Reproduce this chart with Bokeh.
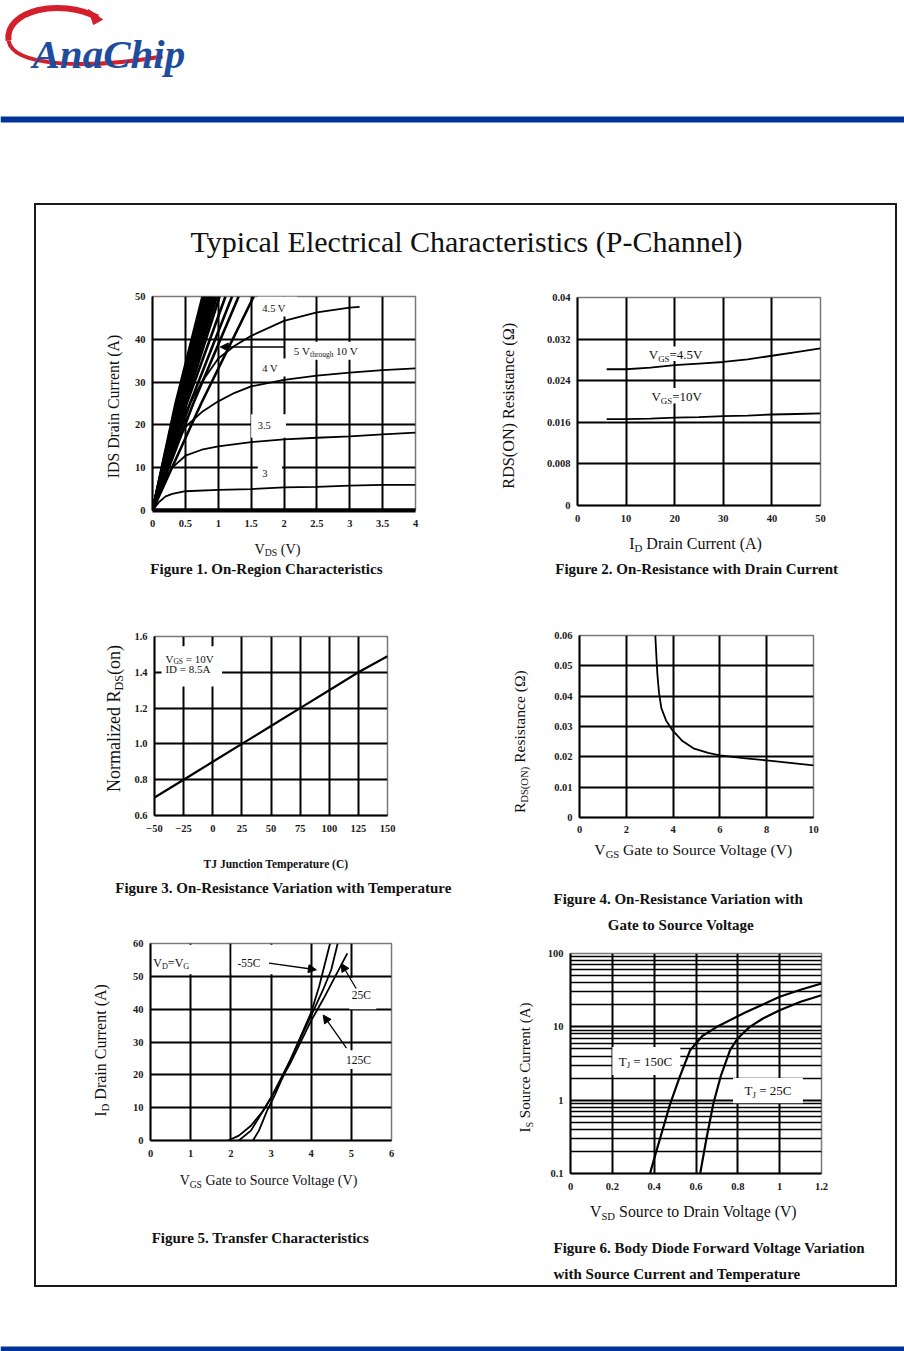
import math
from bokeh.plotting import figure
from bokeh.models import (Range1d, Label, Arrow, NormalHead, FixedTicker,
                          NumeralTickFormatter, Spacer, BoxAnnotation)
from bokeh.layouts import column, row
from bokeh.embed import file_html
from bokeh.resources import INLINE
from bokeh.core.properties import value

SERIF = "Liberation Serif"

# ---------------- Figure 1: On-Region Characteristics ----------------
fig1_vds_25v = [0, 4.0]
fig1_id_25v = [0, 0]
fig1_vds_3v = [0, 0.1, 0.2, 0.3, 0.5, 1.0, 1.5, 2.0, 2.5, 3.0, 3.5, 4.0]
fig1_id_3v = [0, 2.0, 3.3, 3.9, 4.5, 4.8, 5.0, 5.4, 5.5, 5.8, 6.0, 6.0]
fig1_vds_35v = [0, 0.1, 0.2, 0.3, 0.5, 0.75, 1.0, 1.5, 2.0, 2.5, 3.0, 3.5, 4.0]
fig1_id_35v = [0, 4.0, 7.5, 10.0, 12.8, 14.2, 15.0, 16.0, 16.6, 17.0, 17.3, 17.8, 18.2]
fig1_vds_4v = [0, 0.1, 0.25, 0.5, 0.75, 1.0, 1.25, 1.5, 2.0, 2.5, 3.0, 3.5, 4.0]
fig1_id_4v = [0, 5.0, 12.0, 19.5, 23.0, 25.5, 27.5, 29.0, 30.5, 31.5, 32.2, 32.8, 33.2]
fig1_vds_45v = [0, 0.25, 0.5, 0.75, 1.0, 1.25, 1.5, 2.0, 2.5, 3.0, 3.15]
fig1_id_45v = [0, 13.0, 23.0, 30.0, 35.5, 38.5, 40.8, 44.3, 46.3, 47.4, 47.6]
# 5 V through 10 V family: Vds at which each curve reaches 25 A and 50 A
fig1_bundle_id = [0, 25, 50]
fig1_bundle_vds_25a = [0.35, 0.36, 0.37, 0.38, 0.39, 0.40, 0.41, 0.42, 0.43, 0.45, 0.47,
                       0.50, 0.52, 0.57, 0.62, 0.74]
fig1_bundle_vds_50a = [0.76, 0.78, 0.80, 0.82, 0.84, 0.86, 0.88, 0.90, 0.92, 0.95, 0.98,
                       1.02, 1.11, 1.21, 1.31, 1.54]
fig1_xticks = [0, 0.5, 1, 1.5, 2, 2.5, 3, 3.5, 4]
fig1_yticks = [0, 10, 20, 30, 40, 50]

# ---------------- Figure 2: On-Resistance with Drain Current ----------------
fig2_id = [6, 10, 15, 20, 25, 30, 35, 40, 45, 50]
fig2_r_45v = [0.0262, 0.0262, 0.0265, 0.0270, 0.0273, 0.0276, 0.0281, 0.0288, 0.0295, 0.0302]
fig2_r_10v = [0.0166, 0.0166, 0.0167, 0.0169, 0.0170, 0.0172, 0.0173, 0.0175, 0.0176, 0.0177]
fig2_xticks = [0, 10, 20, 30, 40, 50]
fig2_yticks = [0, 0.008, 0.016, 0.024, 0.032, 0.04]

# ---------------- Figure 3: On-Resistance vs Temperature ----------------
fig3_tj = [-50, -25, 0, 25, 50, 75, 100, 125, 150]
fig3_rn = [0.70, 0.80, 0.90, 1.00, 1.10, 1.20, 1.30, 1.40, 1.49]
fig3_xticks = [-50, -25, 0, 25, 50, 75, 100, 125, 150]
fig3_yticks = [0.6, 0.8, 1.0, 1.2, 1.4, 1.6]

# ---------------- Figure 4: On-Resistance vs Gate Voltage ----------------
fig4_vgs = [3.24, 3.28, 3.33, 3.40, 3.50, 3.70, 3.95, 4.40, 4.90, 5.50, 6.00, 7.00, 8.00, 9.00, 10.0]
fig4_r = [0.060, 0.054, 0.047, 0.041, 0.036, 0.032, 0.029, 0.0252, 0.0227, 0.0213, 0.0205,
          0.0196, 0.0188, 0.0180, 0.0172]
fig4_xticks = [0, 2, 4, 6, 8, 10]
fig4_yticks = [0, 0.01, 0.02, 0.03, 0.04, 0.05, 0.06]

# ---------------- Figure 5: Transfer Characteristics ----------------
fig5_vgs_m55 = [2.55, 2.70, 2.90, 3.10, 3.50, 4.00, 4.20, 4.47]
fig5_id_m55 = [0, 3, 9, 14, 25, 39, 47, 60]
fig5_vgs_25 = [2.20, 2.50, 2.80, 3.00, 3.50, 4.00, 4.30, 4.50, 4.66]
fig5_id_25 = [0, 3, 9, 13, 25, 38, 46, 52, 60]
fig5_vgs_125 = [1.93, 2.20, 2.50, 2.80, 3.00, 3.50, 4.00, 4.30, 4.60, 4.90]
fig5_id_125 = [0, 1.5, 4.5, 9, 13, 24, 36.5, 43, 50, 57]
fig5_xticks = [0, 1, 2, 3, 4, 5, 6]
fig5_yticks = [0, 10, 20, 30, 40, 50, 60]

# ---------------- Figure 6: Body Diode Forward Voltage ----------------
fig6_vsd_150 = [0.38, 0.42, 0.477, 0.52, 0.572, 0.63, 0.70, 0.83, 1.00, 1.10, 1.20]
fig6_is_150 = [0.1, 0.25, 0.9, 2.0, 4.8, 7.5, 10, 15.4, 25.7, 32, 39]
fig6_vsd_25 = [0.62, 0.65, 0.683, 0.72, 0.763, 0.80, 0.857, 0.92, 1.00, 1.10, 1.20]
fig6_is_25 = [0.1, 0.3, 0.9, 2.2, 4.8, 7.0, 10, 13, 16.8, 22, 27]
fig6_xticks = [0, 0.2, 0.4, 0.6, 0.8, 1.0, 1.2]
fig6_yticks = [0.1, 1, 10, 100]
fig6_yminor = [0.2, 0.3, 0.4, 0.5, 0.6, 0.7, 0.8, 0.9, 2, 3, 4, 5, 6, 7, 8, 9,
               20, 30, 40, 50, 60, 70, 80, 90]

TITLE = "Typical Electrical Characteristics (P-Channel)"

# ---------------- helpers ----------------
_W = {}
for c, w in zip("ABCDEFGHIJKLMNOPQRSTUVWXYZ",
                [.722, .667, .667, .722, .611, .556, .722, .722, .333, .389, .722, .611, .889,
                 .722, .722, .556, .722, .667, .556, .611, .722, .722, .944, .722, .722, .611]):
    _W[c] = w
for c, w in zip("abcdefghijklmnopqrstuvwxyz",
                [.444, .5, .444, .5, .444, .333, .5, .5, .278, .278, .5, .278, .778,
                 .5, .5, .5, .5, .333, .389, .278, .5, .5, .722, .5, .5, .444]):
    _W[c] = w
_W.update({" ": .25, "(": .333, ")": .333, "=": .564, ".": .25, "-": .333, "Ω": .768})


def tw(s, size, bold=False):
    return sum(_W.get(ch, 0.5) for ch in s) * size * (1.05 if bold else 1.0)


def _items(parts, size, bold):
    """-> list of (text_stripped, kind, font_size, lead_px, text_px, trail_px)"""
    sub = size * 0.68
    out = []
    for t, kind in parts:
        sz = sub if kind == "s" else size
        core = t.strip(" ")
        lead = len(t) - len(t.lstrip(" "))
        trail = len(t) - len(t.rstrip(" "))
        sp = tw(" ", sz, bold)
        out.append((core, kind, sz, lead * sp, tw(core, sz, bold), trail * sp))
    return out


def prich(p, x, y, parts, size, align="center", bold=False, rotated=False, color="#111111"):
    """Rich text drawn with text glyphs in a page-coordinate panel (y grows downward)."""
    items = _items(parts, size, bold)
    total = sum(a + b + c for _, _, _, a, b, c in items)
    off = {"center": -total / 2.0, "left": 0.0, "right": -total}[align]
    for t, kind, sz, lead, w, trail in items:
        off += lead
        shift = size * 0.3 if kind == "s" else 0.0
        if rotated:
            px, py, ang = x + shift, y - off, math.pi / 2
        else:
            px, py, ang = x + off, y + shift, 0.0
        p.text(x=[px], y=[py], text=[t], angle=ang, text_font=value(SERIF),
               text_font_size=f"{sz:.1f}px", text_font_style="bold" if bold else "normal",
               text_color=color, text_align="left", text_baseline="middle")
        off += w + trail


def lrich(p, x, y, parts, size, align="center", color="#111111"):
    """Rich text label inside a plot frame, anchored in data units."""
    items = _items(parts, size, False)
    total = sum(a + b + c for _, _, _, a, b, c in items)
    off = {"center": -total / 2.0, "left": 0.0, "right": -total}[align]
    for t, kind, sz, lead, w, trail in items:
        off += lead
        shift = size * 0.3 if kind == "s" else 0.0
        p.add_layout(Label(x=x, y=y, text=t, x_offset=off, y_offset=-shift, text_font=SERIF,
                           text_font_size=f"{sz:.1f}px", text_color=color,
                           text_align="left", text_baseline="middle"))
        off += w + trail


def wbox(p, left, right, bottom, top):
    """White box behind a label (interrupts the grid like the original sheet)."""
    p.add_layout(BoxAnnotation(left=left, right=right, bottom=bottom, top=top,
                               fill_color="white", fill_alpha=1.0, line_color=None,
                               level="underlay"))


def panel(w, h, x0, x1, y0, y1, bt=0, bb=0):
    p = figure(width=w, height=h, x_range=Range1d(x0, x1), y_range=Range1d(y1, y0),
               output_backend="svg", toolbar_location=None, min_border_left=0,
               min_border_right=0, min_border_top=bt, min_border_bottom=bb,
               x_axis_location=None, y_axis_location=None)
    p.grid.visible = False
    p.outline_line_color = None
    p.background_fill_color = "white"
    p.border_fill_color = "white"
    return p


def base_fig(w, h, bl, br, bt, bb, xr, yr, xticks, yticks, y_type="linear", xstand=9):
    p = figure(width=w, height=h, x_range=Range1d(*xr), y_range=Range1d(*yr),
               y_axis_type=y_type, output_backend="svg", toolbar_location=None,
               min_border_left=bl, min_border_right=br, min_border_top=bt,
               min_border_bottom=bb)
    p.background_fill_color = "white"
    p.border_fill_color = "white"
    p.outline_line_color = "#7a7a7a"
    p.outline_line_width = 1.5
    p.xaxis.ticker = FixedTicker(ticks=xticks)
    p.yaxis.ticker = FixedTicker(ticks=yticks)
    for ax in (p.xaxis[0], p.yaxis[0]):
        ax.axis_line_color = "black"
        ax.axis_line_width = 2
        ax.major_tick_line_color = None
        ax.minor_tick_line_color = None
        ax.major_tick_out = 0
        ax.major_tick_in = 0
        ax.minor_tick_out = 0
        ax.minor_tick_in = 0
        ax.major_label_text_font = SERIF
        ax.major_label_text_font_size = "10.5px"
        ax.major_label_text_font_style = "bold"
        ax.major_label_text_color = "#1a1a1a"
    p.xaxis.major_label_standoff = xstand
    p.yaxis.major_label_standoff = 7
    for g in (p.xgrid[0], p.ygrid[0]):
        g.grid_line_color = "black"
        g.grid_line_width = 2
    return p


def curve(p, xs, ys, w=1.8):
    p.line(xs, ys, line_color="black", line_width=w)


def arrow(p, x0, y0, x1, y1):
    p.add_layout(Arrow(end=NormalHead(size=8, fill_color="black", line_color="black"),
                       x_start=x0, y_start=y0, x_end=x1, y_end=y1,
                       line_color="black", line_width=1.3))


# ---------------- header (page coordinates) ----------------
hdr = panel(904, 203, 0, 904, 0, 203)
RED = "#d3202b"
hdr.bezier(x0=[97], y0=[17], x1=[8], y1=[40], cx0=[60], cy0=[-3], cx1=[4], cy1=[10],
           line_color=RED, line_width=6)
hdr.bezier(x0=[8], y0=[40], x1=[162], y1=[56], cx0=[12], cy0=[66], cx1=[85], cy1=[69],
           line_color=RED, line_width=4)
hdr.patch(x=[88, 102, 93], y=[9, 19, 24], fill_color=RED, line_color=RED)
hdr.text(x=[32], y=[53], text=["AnaChip"], text_font=value(SERIF),
         text_font_style="bold italic", text_font_size="41px", text_color="#1f4d9e",
         text_baseline="alphabetic", text_align="left")
hdr.quad(left=[0], right=[904], top=[116], bottom=[122], fill_color="#003399",
         line_color=None)

# ---------------- title (page y 205..262) ----------------
tfig = panel(859, 57, 36, 895, 205, 262)
tfig.text(x=[466], y=[241], text=[TITLE], text_font=value(SERIF), text_font_size="30px",
          text_color="#111111", text_align="center", text_baseline="middle")

# ================= Row 1 (page y 262..590) =================
# Figure 1 (plot figure spans page x 126..452, y 262..535; frame 152..415 x 296..510)
f1 = base_fig(326, 273, 26, 37, 34, 25, (0, 4), (0, 50), fig1_xticks, fig1_yticks)
f1.xaxis.formatter = NumeralTickFormatter(format="0.[0]")
f1.xaxis.axis_line_width = 4
wbox(f1, 1.60, 2.20, 45.3, 50)
wbox(f1, 2.10, 3.25, 35.2, 39.4)
wbox(f1, 1.55, 2.05, 31.3, 35.5)
wbox(f1, 1.50, 2.03, 17.0, 22.5)
wbox(f1, 1.60, 1.97, 7.0, 11.0)
f1.multi_line(xs=[[0, a, b] for a, b in zip(fig1_bundle_vds_25a, fig1_bundle_vds_50a)],
              ys=[fig1_bundle_id] * len(fig1_bundle_vds_50a), line_color="black",
              line_width=2.6)
curve(f1, fig1_vds_45v, fig1_id_45v)
curve(f1, fig1_vds_4v, fig1_id_4v)
curve(f1, fig1_vds_35v, fig1_id_35v)
curve(f1, fig1_vds_3v, fig1_id_3v)
curve(f1, fig1_vds_25v, fig1_id_25v, w=4)
lrich(f1, 1.67, 47.2, [("4.5 V", "n")], 10.5, align="left")
arrow(f1, 2.0, 38.2, 1.03, 38.2)
lrich(f1, 2.15, 37.2, [("5 V", "n"), ("through", "s"), (" 10 V", "n")], 11, align="left")
lrich(f1, 1.67, 33.2, [("4 V", "n")], 10.5, align="left")
lrich(f1, 1.60, 19.9, [("3.5", "n")], 10.5, align="left")
lrich(f1, 1.67, 8.6, [("3", "n")], 10.5, align="left")
y1L = panel(90, 273, 36, 126, 296, 510, bt=34, bb=25)
prich(y1L, 113, 406, [("IDS Drain Current (A)", "n")], 15.8, rotated=True)
b1L = panel(416, 55, 36, 452, 535, 590)
prich(b1L, 277, 548, [("V", "n"), ("DS", "s"), (" (V)", "n")], 14.3)
prich(b1L, 264, 568, [("Figure 1. On-Region Characteristics", "n")], 15, bold=True)

# Figure 2 (plot figure spans x 540..895, y 262..530; frame 577..820 x 297..505)
f2 = base_fig(355, 268, 37, 75, 35, 25, (0, 50), (0, 0.04), fig2_xticks, fig2_yticks)
f2.yaxis.formatter = NumeralTickFormatter(format="0.[000]")
wbox(f2, 14.3, 26.3, 0.0278, 0.0306)
wbox(f2, 15.0, 26.0, 0.0196, 0.0226)
curve(f2, fig2_id, fig2_r_45v)
curve(f2, fig2_id, fig2_r_10v)
lrich(f2, 20.2, 0.0290, [("V", "n"), ("GS", "s"), ("=4.5V", "n")], 13)
lrich(f2, 20.4, 0.0209, [("V", "n"), ("GS", "s"), ("=10V", "n")], 13)
y1R = panel(88, 268, 452, 540, 297, 505, bt=35, bb=25)
prich(y1R, 508, 405, [("RDS(ON) Resistance (Ω)", "n")], 16.2, rotated=True)
b1R = panel(443, 60, 452, 895, 530, 590)
prich(b1R, 695, 543, [("I", "n"), ("D", "s"), (" Drain Current (A)", "n")], 16)
prich(b1R, 693, 568, [("Figure 2. On-Resistance with Drain Current", "n")], 15, bold=True)

# ================= Row 2 =================
# Figure 3 (plot figure x 126..452, y 590..840; frame 154..387 x 636..815)
f3 = base_fig(326, 250, 28, 65, 46, 25, (-50, 150), (0.6, 1.6), fig3_xticks, fig3_yticks)
f3.yaxis.formatter = NumeralTickFormatter(format="0.0")
wbox(f3, -44, 8, 1.32, 1.545)
curve(f3, fig3_tj, fig3_rn, w=2.2)
lrich(f3, -40.6, 1.477, [("V", "n"), ("GS", "s"), (" = 10V", "n")], 11, align="left")
lrich(f3, -40.6, 1.42, [("ID = 8.5A", "n")], 11, align="left")
y2L = panel(90, 250, 36, 126, 636, 815, bt=46, bb=25)
prich(y2L, 113, 718, [("Normalized R", "n"), ("DS", "s"), ("(on)", "n")], 18, rotated=True)
b2L = panel(416, 95, 36, 452, 840, 935)
prich(b2L, 273, 863, [("TJ Junction Temperature (C)", "n")], 11.5, bold=True)
prich(b2L, 281, 887, [("Figure 3. On-Resistance Variation with Temperature", "n")], 15,
      bold=True)

# Figure 4 (plot figure x 540..895, y 590..840; frame 579..813 x 635..817)
f4 = base_fig(355, 250, 39, 82, 45, 23, (0, 10), (0, 0.06), fig4_xticks, fig4_yticks,
              xstand=8)
f4.yaxis.formatter = NumeralTickFormatter(format="0.[00]")
curve(f4, fig4_vgs, fig4_r)
y2R = panel(88, 250, 452, 540, 635, 817, bt=45, bb=23)
prich(y2R, 519, 741, [("R", "n"), ("DS(ON)", "s"), (" Resistance (Ω)", "n")], 15.6,
      rotated=True)
b2R = panel(443, 95, 452, 895, 840, 935)
prich(b2R, 694, 849, [("V", "n"), ("GS", "s"), (" Gate to Source Voltage (V)", "n")], 15.6)
prich(b2R, 677, 898, [("Figure 4. On-Resistance Variation with", "n")], 15, bold=True)
prich(b2R, 681, 924, [("Gate to Source Voltage", "n")], 15, bold=True)

# ================= Row 3 =================
# Figure 5 (plot figure x 126..452, y 935..1165; frame 150..391 x 943..1140)
f5 = base_fig(326, 230, 24, 61, 8, 25, (0, 6), (0, 60), fig5_xticks, fig5_yticks)
wbox(f5, 0.04, 1.12, 50.6, 59.6)
wbox(f5, 2.02, 3.10, 50.6, 59.6)
wbox(f5, 4.95, 5.62, 40.0, 49.5)
wbox(f5, 4.78, 5.58, 21.8, 27.5)
curve(f5, fig5_vgs_m55, fig5_id_m55)
curve(f5, fig5_vgs_25, fig5_id_25)
curve(f5, fig5_vgs_125, fig5_id_125)
lrich(f5, 0.07, 54, [("V", "n"), ("D", "s"), ("=V", "n"), ("G", "s")], 12, align="left")
lrich(f5, 2.45, 54, [("-55C", "n")], 11.5)
lrich(f5, 5.25, 44.3, [("25C", "n")], 11.5)
lrich(f5, 5.18, 24.5, [("125C", "n")], 11.5)
arrow(f5, 2.95, 54, 4.13, 52)
arrow(f5, 5.12, 46.3, 4.75, 53.9)
arrow(f5, 4.88, 28.1, 4.3, 38.2)
y3L = panel(90, 230, 36, 126, 943, 1140, bt=8, bb=25)
prich(y3L, 100, 1050, [("I", "n"), ("D", "s"), (" Drain Current (A)", "n")], 16, rotated=True)
b3L = panel(416, 120, 36, 452, 1165, 1285)
prich(b3L, 269, 1180, [("V", "n"), ("GS", "s"), (" Gate to Source Voltage (V)", "n")], 14)
prich(b3L, 257, 1237, [("Figure 5. Transfer Characteristics", "n")], 15, bold=True)

# Figure 6 (plot figure x 540..895, y 935..1198; frame 570..821 x 953..1173)
f6 = base_fig(355, 263, 30, 74, 18, 25, (0, 1.2), (0.1, 100), fig6_xticks, fig6_yticks,
              y_type="log")
f6.yaxis.ticker = FixedTicker(ticks=fig6_yticks, minor_ticks=fig6_yminor)
f6.xaxis.formatter = NumeralTickFormatter(format="0.[0]")
f6.yaxis.formatter = NumeralTickFormatter(format="0.[0]")
f6.ygrid.minor_grid_line_color = "black"
f6.ygrid.minor_grid_line_width = 1.6
wbox(f6, 0.20, 0.525, 2.2, 5.3)
wbox(f6, 0.777, 1.111, 0.91, 2.0)
curve(f6, fig6_vsd_150, fig6_is_150, w=2.2)
curve(f6, fig6_vsd_25, fig6_is_25, w=2.2)
lrich(f6, 0.358, 3.4, [("T", "n"), ("J", "s"), (" = 150C", "n")], 13)
lrich(f6, 0.944, 1.35, [("T", "n"), ("J", "s"), (" = 25C", "n")], 13)
y3R = panel(88, 263, 452, 540, 953, 1173, bt=18, bb=25)
prich(y3R, 524, 1067, [("I", "n"), ("S", "s"), (" Source Current (A)", "n")], 15,
      rotated=True)
b3R = panel(443, 87, 452, 895, 1198, 1285)
prich(b3R, 694, 1211, [("V", "n"), ("SD", "s"), (" Source to Drain Voltage (V)", "n")], 15.8)
prich(b3R, 553, 1247, [("Figure 6. Body Diode Forward Voltage Variation", "n")], 15,
      align="left", bold=True)
prich(b3R, 553, 1273, [("with Source Current and Temperature", "n")], 15, align="left",
      bold=True)

# ---------------- footer ----------------
ftr = panel(904, 64, 0, 904, 1287, 1351)
ftr.quad(left=[0], right=[904], top=[1346], bottom=[1351], fill_color="#003399",
         line_color=None)


def side(ylab, plot, band):
    return column(row(ylab, plot), band)


frame = column(tfig,
               row(side(y1L, f1, b1L), side(y1R, f2, b1R)),
               row(side(y2L, f3, b2L), side(y2R, f4, b2R)),
               row(side(y3L, f5, b3L), side(y3R, f6, b3R)),
               styles={"border": "2px solid #1a1a1a", "background-color": "white"})
page = column(hdr, row(Spacer(width=34, height=1084), frame), ftr)

open("out.html", "w").write(file_html(page, INLINE))
